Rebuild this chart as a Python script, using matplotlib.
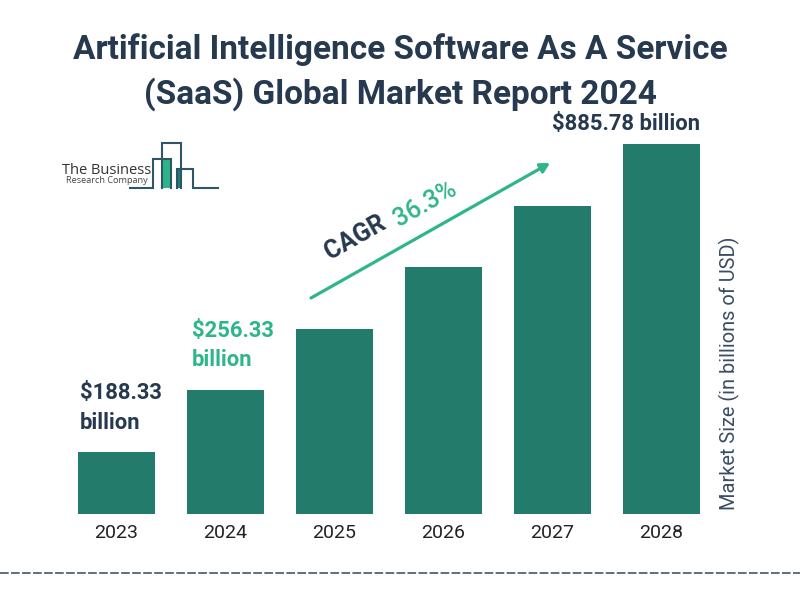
import matplotlib
matplotlib.use("Agg")
import matplotlib.pyplot as plt
from matplotlib.patches import Rectangle

plt.rcParams['font.family'] = ['Roboto', 'DejaVu Sans']

years = ["2023", "2024", "2025", "2026", "2027", "2028"]
# The reference draws evenly stepped schematic bars, not bars to scale
bar_levels = [1, 2, 3, 4, 5, 6]
title_lines = ["Artificial Intelligence Software As A Service",
               "(SaaS) Global Market Report 2024"]
label_2023 = "$188.33\nbillion"
label_2024 = "$256.33\nbillion"
label_2028 = "$885.78 billion"
cagr_name = "CAGR"
cagr_value = "36.3%"
y_axis_label = "Market Size (in billions of USD)"

BAR = "#237C6B"
DARK = "#26394F"
GREEN = "#2FB58A"
TICK = "#222222"

fig = plt.figure(figsize=(8, 6), dpi=100, facecolor="white")

# Overlay in pixel coordinates for furniture
ov = fig.add_axes([0, 0, 1, 1])
ov.set_xlim(0, 800)
ov.set_ylim(600, 0)
ov.axis("off")

# Bars
ax = fig.add_axes([62/800, (600-513.5)/600, (716-62)/800, (513.5-144)/600])
ax.bar(range(len(years)), bar_levels, width=0.706, color=BAR)
ax.set_xlim(-0.5, 5.5)
ax.set_ylim(0, 6)
ax.patch.set_alpha(0)
for s in ax.spines.values():
    s.set_visible(False)
ax.set_yticks([])
ax.set_xticks(range(len(years)), years)
ax.tick_params(axis="x", length=0, pad=7.5, labelsize=14, labelcolor=TICK)

# Title
ov.text(400, 49.5, title_lines[0], ha="center", va="center", fontsize=24.0,
        fontweight="bold", color=DARK)
ov.text(400, 94.5, title_lines[1], ha="center", va="center", fontsize=24.0,
        fontweight="bold", color=DARK)

# Value labels
ov.text(80, 408, label_2023, ha="left", va="center", fontsize=15.8, fontweight="bold",
        color=DARK, linespacing=1.47)
ov.text(192, 345.5, label_2024, ha="left", va="center", fontsize=15.8, fontweight="bold",
        color=GREEN, linespacing=1.47)
ov.text(626, 123.5, label_2028, ha="center", va="center", fontsize=15.8, fontweight="bold",
        color=DARK)

# CAGR arrow and text
ov.annotate("", xy=(550, 163), xytext=(311, 298),
            arrowprops=dict(arrowstyle="-|>,head_width=0.3,head_length=0.55",
                            color=GREEN, lw=2.3, shrinkA=0, shrinkB=0))
ov.text(355.5, 237.5, cagr_name, ha="center", va="center", rotation=29.5,
        rotation_mode="anchor", fontsize=18, fontweight="bold", color=DARK)
ov.text(425, 204.5, cagr_value, ha="center", va="center", rotation=29.5,
        rotation_mode="anchor", fontsize=18, fontweight="medium", color=GREEN)

# Axis label at right
ov.text(729, 373.5, y_axis_label, ha="center", va="center", rotation=90,
        fontsize=14.4, color="#3A4E63")

# Logo
LOGO = "#2F5666"
ov.add_patch(Rectangle((163, 159), 7.5, 29, color="#2DB58A", lw=0))
ov.add_patch(Rectangle((177, 169), 4.5, 19, color="#1F7F78", lw=0))
LW = 1.5
ov.plot([130, 153, 153, 170.5, 170.5], [187.5, 187.5, 159, 159, 187.5],
        color=LOGO, lw=LW, solid_joinstyle="miter")
ov.plot([162, 162, 181, 181], [187.5, 142.5, 142.5, 187.5], color=LOGO, lw=LW,
        solid_joinstyle="miter")
ov.plot([177, 177, 193, 193, 218], [187.5, 169, 169, 187.5, 187.5], color=LOGO, lw=LW,
        solid_joinstyle="miter")
ov.text(62, 170, "The Business", ha="left", va="center", fontsize=10.5, color="#333333",
        family=["Open Sans", "DejaVu Sans"])
ov.text(66, 180.5, "Research Company", ha="left", va="center", fontsize=6.6, color="#444444",
        family=["Open Sans", "DejaVu Sans"])

# Dashed rule
ov.plot([0, 800], [573, 573], color="#55636F", lw=1.3, linestyle=(0, (4.8, 1.3)))

fig.savefig("out.png", dpi=100)
